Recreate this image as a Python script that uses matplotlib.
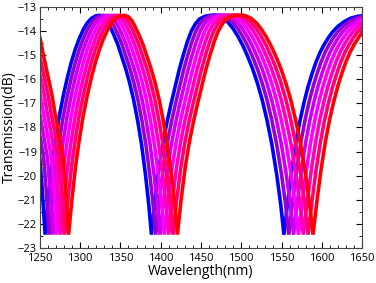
import numpy as np
import matplotlib
matplotlib.use("Agg")
import matplotlib.pyplot as plt
from matplotlib.ticker import MultipleLocator

# blue (reference) spectrum: wavelength (nm), transmission (dB)
blue_wl = [1200, 1206, 1212, 1217, 1222, 1226, 1231, 1236, 1240, 1245, 1250, 1253, 1256.5,
           1260.5, 1265, 1269.5, 1274, 1279, 1284, 1289, 1294, 1299, 1304, 1309, 1314, 1319,
           1324, 1329, 1333, 1337, 1341.8, 1346.7, 1351.6, 1356.5, 1361.5, 1366.4, 1371.3,
           1376.2, 1381.1, 1385.2, 1388.5,
           1393, 1398, 1403, 1408, 1413, 1418, 1423, 1428, 1433, 1438, 1443, 1448, 1455,
           1462, 1467, 1472, 1478, 1484, 1490, 1496, 1502, 1508, 1514, 1520, 1526, 1532,
           1538, 1544, 1549, 1553,
           1558, 1563, 1568, 1573, 1578, 1583, 1588, 1593, 1598, 1603, 1608, 1613, 1620,
           1628, 1636, 1645, 1655, 1665]
blue_db = [-13.35, -13.4, -13.55, -13.85, -14.3, -15.0, -15.8, -16.6, -17.4, -18.3, -19.3, -20.6, -22.45,
           -21.0, -19.6, -18.5, -17.55, -16.7, -15.95, -15.3, -14.75, -14.3, -13.93, -13.65, -13.47, -13.37,
           -13.34, -13.4, -13.55, -13.8, -14.15, -14.55, -15.05, -15.55, -16.15, -16.85, -17.7,
           -18.7, -19.95, -21.2, -22.45,
           -21.0, -19.65, -18.6, -17.75, -17.0, -16.3, -15.6, -15.0, -14.45, -14.0, -13.7, -13.5, -13.38,
           -13.34, -13.33, -13.37, -13.47, -13.65, -13.9, -14.22, -14.6, -15.05, -15.55, -16.15, -16.85, -17.7,
           -18.7, -19.95, -21.2, -22.45,
           -21.0, -19.7, -18.6, -17.7, -16.95, -16.3, -15.75, -15.27, -14.87, -14.55, -14.28, -14.05, -13.8,
           -13.6, -13.46, -13.38, -13.35, -13.4]

# wavelength stretch of each curve (from dip positions), blue -> red
stretch = [1.0, 1.0039, 1.0077, 1.0116, 1.0155, 1.0193, 1.0232]
colors = ['#0000ff', '#9900cc', '#cc00ee', '#ff00ff', '#ff00bb', '#ff0077', '#ff0000']

x_ticks = [1250, 1300, 1350, 1400, 1450, 1500, 1550, 1600, 1650]
y_ticks = [-23, -22, -21, -20, -19, -18, -17, -16, -15, -14, -13]

plt.rcParams['font.family'] = ['Open Sans', 'DejaVu Sans']

fig = plt.figure(figsize=(3.76, 2.83), dpi=100)
ax = fig.add_axes([0.106, 0.124, 0.857, 0.851])

for s, c in zip(stretch, colors):
    ax.plot(np.array(blue_wl) * s, blue_db, color=c, lw=2.6, solid_joinstyle='miter')

ax.set_xlim(1250, 1650)
ax.set_ylim(-23, -13)
ax.set_xticks(x_ticks)
ax.set_yticks(y_ticks)
ax.xaxis.set_minor_locator(MultipleLocator(10))
ax.yaxis.set_minor_locator(MultipleLocator(0.5))
ax.tick_params(which='both', direction='in', top=True, right=True, labelsize=8)
ax.tick_params(axis='x', pad=3.5)
ax.tick_params(axis='y', pad=2)
ax.tick_params(which='major', length=4, width=0.8)
ax.tick_params(which='minor', length=2.5, width=0.6)
for sp in ax.spines.values():
    sp.set_linewidth(0.8)
    sp.set_color('#444444')

ax.set_xlabel('Wavelength(nm)', fontsize=10, labelpad=0)
ax.set_ylabel('Transmission(dB)', fontsize=10, labelpad=1)

fig.savefig('out.png', dpi=100)
